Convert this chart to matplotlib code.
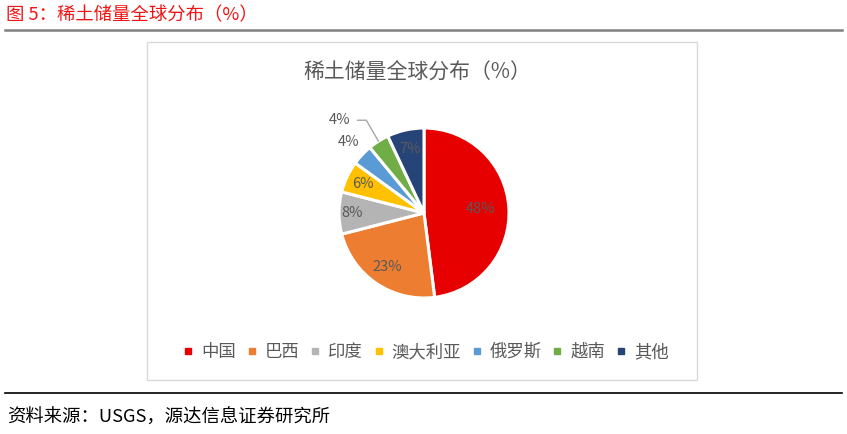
import numpy as np
import matplotlib.pyplot as plt
from matplotlib.patches import Rectangle
from matplotlib.lines import Line2D

plt.rcParams['font.family'] = ['Noto Sans CJK SC', 'DejaVu Sans']

# data
countries = ['中国', '巴西', '印度', '澳大利亚', '俄罗斯', '越南', '其他']
shares = [48, 23, 8, 6, 4, 4, 7]
colors = ['#E60000', '#ED7D31', '#B4B4B4', '#FFC000', '#5B9BD5', '#70AD47', '#264478']
# label distance from centre, in pie radii (None = outside with leader line)
label_r = [0.67, 0.77, 0.84, 0.8, 1.22, None, 0.77]

W, H = 847, 434
fig = plt.figure(figsize=(W / 100, H / 100), dpi=100)


def fx(px):
    return px / W


def fy(py):
    return 1 - py / H


# header / footer
fig.text(fx(6), fy(15), '图 5：稀土储量全球分布（%）', color='#F01414', fontsize=13.2,
         va='center', ha='left')
fig.add_artist(Line2D([fx(5), fx(842)], [fy(29.5), fy(29.5)], color='#808080', lw=1.8))
fig.add_artist(Line2D([fx(5), fx(842)], [fy(393), fy(393)], color='black', lw=1.2))
fig.text(fx(7), fy(418), '资料来源：USGS，源达信息证券研究所', color='black', fontsize=13.2,
         va='center', ha='left')

# chart frame
fig.add_artist(Rectangle((fx(146.5), fy(379.5)), fx(697 - 146.5), (379.5 - 42) / H,
                         transform=fig.transFigure, facecolor='white',
                         edgecolor='#D9D9D9', lw=1, zorder=-1))
fig.text(fx(417), fy(72.5), '稀土储量全球分布（%）', color='#595959', fontsize=15,
         ha='center', va='center')

# pie
cx, cy, R, half = 424, 213, 85, 130
ax = fig.add_axes([fx(cx - half), fy(cy + half), 2 * half / W, 2 * half / H])
ax.patch.set_alpha(0)
wedges, _ = ax.pie(shares, colors=colors, startangle=90, counterclock=False,
                   wedgeprops=dict(edgecolor='white', linewidth=2.2))
lim = half / R
ax.set_xlim(-lim, lim)
ax.set_ylim(-lim, lim)
ax.set_aspect('equal')
ax.axis('off')

for w, v, r in zip(wedges, shares, label_r):
    ang = np.deg2rad((w.theta1 + w.theta2) / 2)
    txt = f'{v}%'
    if r is None:
        # outside label with a leader line
        ax.annotate(txt, xy=(1.0 * np.cos(ang), 1.0 * np.sin(ang)),
                    xytext=(-28, 21), textcoords='offset pixels',
                    ha='right', va='center', fontsize=10.5, color='#595959',
                    arrowprops=dict(arrowstyle='-', color='#A6A6A6', lw=1,
                                    connectionstyle='angle,angleA=0,angleB=120,rad=0',
                                    shrinkA=3, shrinkB=0))
    else:
        ax.text(r * np.cos(ang), r * np.sin(ang), txt, ha='center', va='center',
                fontsize=10.5, color='#595959')

# legend
handles = [Line2D([], [], marker='s', color=c, linestyle='none', markersize=4.5)
           for c in colors]
fig.legend(handles, countries, loc='center', bbox_to_anchor=(fx(425), fy(352)),
           ncol=7, frameon=False, fontsize=12.5, handlelength=0.8, handletextpad=0.35,
           columnspacing=0.5, labelcolor='#595959')

fig.savefig('out.png', dpi=100)
